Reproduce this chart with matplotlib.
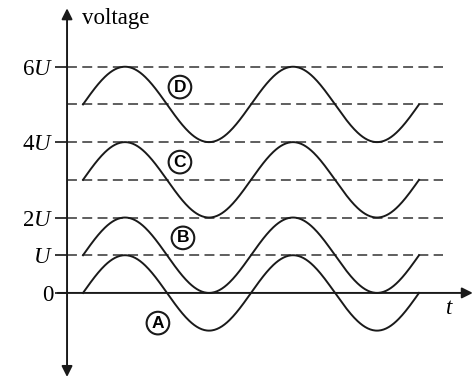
import matplotlib.pyplot as plt
import numpy as np

plt.rcParams['font.family'] = 'Liberation Serif'
plt.rcParams['mathtext.fontset'] = 'custom'
plt.rcParams['mathtext.rm'] = 'Liberation Serif'
plt.rcParams['mathtext.it'] = 'Liberation Serif:italic'

# curves: offset and amplitude in units of U, two full periods each
curve_names = ['A', 'B', 'C', 'D']
offsets = [0, 1, 3, 5]
amplitudes = [1, 1, 1, 1]
n_periods = 2

# dashed reference levels and labelled ticks
dashed_levels = [1, 2, 3, 4, 5, 6]
tick_levels = [0, 1, 2, 4, 6]
tick_labels = ['0', '$U$', '$2U$', '$4U$', '$6U$']

# where the circled letters sit (t in periods, voltage in U)
label_t = [0.446, 0.595, 0.577, 0.577]
label_v = [-0.80, 1.46, 3.47, 5.46]

fig = plt.figure(figsize=(4.77, 3.77), dpi=100)
ax = fig.add_axes([0, 0, 1, 1])
ax.set_xlim(-0.494, 2.345)
ax.set_ylim(-2.23, 7.77)

y_axis_t = -0.095
dash_end = 2.143

for lvl in dashed_levels:
    ax.plot([y_axis_t, dash_end], [lvl, lvl], color='#333333', lw=1.1,
            dashes=(6.5, 3.5))

t = np.linspace(0, n_periods, 400)
for off, amp in zip(offsets, amplitudes):
    ax.plot(t, off + amp * np.sin(2 * np.pi * t), color='#1a1a1a', lw=1.4)

for name, lt, lv in zip(curve_names, label_t, label_v):
    ax.text(lt, lv, name, ha='center', va='center', fontsize=12.5,
            fontweight='bold', family='Liberation Sans',
            bbox=dict(boxstyle='circle,pad=0.22', fc='white', ec='#1a1a1a', lw=1.5))

# axes
for s in ['top', 'right', 'bottom', 'left']:
    ax.spines[s].set_visible(False)
ax.spines['left'].set_position(('data', y_axis_t))
ax.set_xticks([])
ax.set_yticks(tick_levels, tick_labels)
ax.tick_params(axis='y', direction='out', length=9, width=1.1, pad=1,
               labelsize=16.5)

ax.annotate('', xy=(y_axis_t, 7.55), xytext=(y_axis_t, -2.23),
            arrowprops=dict(arrowstyle='<|-|>', lw=1.4, color='#1a1a1a',
                            mutation_scale=16, shrinkA=0, shrinkB=0))
ax.annotate('', xy=(2.32, 0), xytext=(-0.15, 0),
            arrowprops=dict(arrowstyle='-|>', lw=1.4, color='#1a1a1a',
                            mutation_scale=16, shrinkA=0, shrinkB=0))

ax.text(-0.006, 7.29, 'voltage', ha='left', va='center', fontsize=16.5)
ax.text(2.179, -0.40, '$t$', ha='center', va='center', fontsize=16.5)

fig.savefig('out.png', dpi=100)
